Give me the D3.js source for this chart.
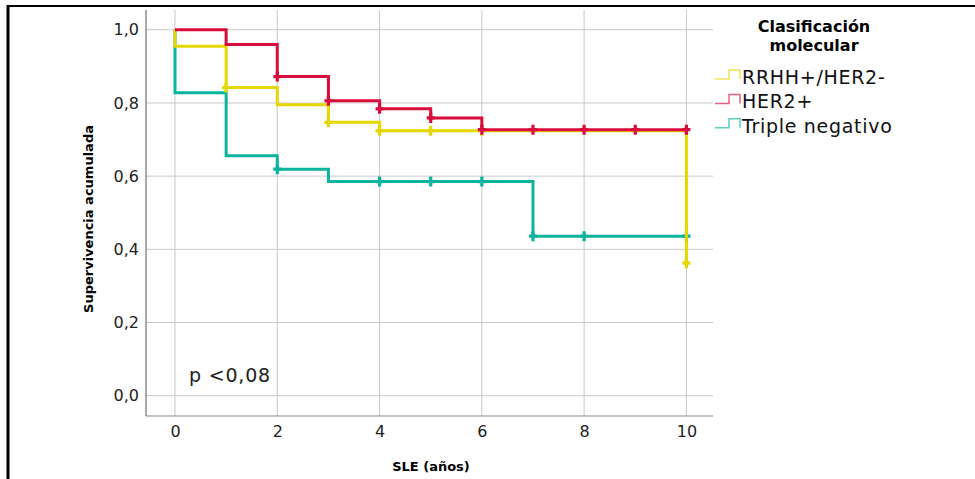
<!DOCTYPE html>
<html>
<head>
<meta charset="utf-8">
<script src="https://cdn.jsdelivr.net/npm/d3@7"></script>
<style>
  body { margin: 0; background: #fff; }
  svg { display: block; }
</style>
</head>
<body>
<div id="chart"></div>
<script>
// Data
const groups = ["RRHH+/HER2-", "HER2+", "Triple negativo"];
const colors = ["#e5d800", "#d80d3c", "#0cb49e"];

// step points: [time, survival]
const rrhhSteps = [[0, 1], [0, 0.955], [1, 0.842], [2, 0.795], [3, 0.747], [4, 0.724], [10, 0.362]];
const her2Steps = [[0, 1], [1, 0.960], [2, 0.872], [3, 0.806], [4, 0.784], [5, 0.759], [6, 0.727]];
const tripleSteps = [[0, 1], [0, 0.828], [1, 0.656], [2, 0.619], [3, 0.585], [7, 0.436]];
const lastTime = 10;

// censored times
const rrhhCensor = [1, 3, 4, 5, 6, 10];
const her2Censor = [2, 3, 4, 5, 6, 7, 8, 9, 10];
const tripleCensor = [2, 4, 5, 6, 7, 8, 10];

const xTicks = [0, 2, 4, 6, 8, 10];
const yTicks = [0, 0.2, 0.4, 0.6, 0.8, 1.0];

const series = [
  { name: groups[0], steps: rrhhSteps, censor: rrhhCensor },
  { name: groups[1], steps: her2Steps, censor: her2Censor },
  { name: groups[2], steps: tripleSteps, censor: tripleCensor }
];

// Setup
const width = 975, height = 479;
const svg = d3.select("#chart").append("svg")
  .attr("width", width)
  .attr("height", height);

// outer frame
svg.append("line").attr("x1", 8).attr("x2", 975).attr("y1", 6).attr("y2", 6)
  .attr("stroke", "#000").attr("stroke-width", 2);
svg.append("line").attr("x1", 8).attr("x2", 8).attr("y1", 5).attr("y2", 479)
  .attr("stroke", "#000").attr("stroke-width", 3);

const plot = { left: 146, right: 713, top: 10, bottom: 416 };

const x = d3.scaleLinear()
  .domain([-0.567, 10.52])
  .range([plot.left, plot.right]);
const y = d3.scaleLinear()
  .domain([-0.0555, 1.054])
  .range([plot.bottom, plot.top]);

const font = "'DejaVu Sans', sans-serif";

// grid
svg.append("g")
  .selectAll("line")
  .data(xTicks)
  .join("line")
  .attr("x1", d => x(d)).attr("x2", d => x(d))
  .attr("y1", plot.top).attr("y2", plot.bottom)
  .attr("stroke", "#c9c9c9").attr("stroke-width", 1);

svg.append("g")
  .selectAll("line")
  .data(yTicks)
  .join("line")
  .attr("x1", plot.left).attr("x2", plot.right)
  .attr("y1", d => y(d)).attr("y2", d => y(d))
  .attr("stroke", "#c9c9c9").attr("stroke-width", 1);

// axes
const fmt = d => d3.format(".1f")(d).replace(".", ",");

const yAxis = svg.append("g")
  .attr("transform", `translate(${plot.left},0)`)
  .call(d3.axisLeft(y).tickValues(yTicks).tickSize(0).tickPadding(7).tickFormat(fmt));
yAxis.select(".domain").attr("stroke", "#555").attr("d", `M0,${plot.top}V${plot.bottom}`);
yAxis.selectAll("text").attr("font-family", font).attr("font-size", 16).attr("fill", "#222");

const xAxis = svg.append("g")
  .attr("transform", `translate(0,${plot.bottom})`)
  .call(d3.axisBottom(x).tickValues(xTicks).tickSize(0).tickPadding(10).tickFormat(d3.format("d")));
xAxis.select(".domain").attr("stroke", "#888").attr("d", `M${plot.left},0H${plot.right}`);
xAxis.selectAll("text").attr("font-family", font).attr("font-size", 16).attr("fill", "#222");

// axis titles
svg.append("text")
  .attr("x", 431).attr("y", 471)
  .attr("text-anchor", "middle")
  .attr("font-family", font).attr("font-size", 13).attr("font-weight", "bold")
  .text("SLE (años)");

svg.append("text")
  .attr("transform", `translate(93,${(plot.top + plot.bottom) / 2 + 6}) rotate(-90)`)
  .attr("text-anchor", "middle")
  .attr("font-family", font).attr("font-size", 13).attr("font-weight", "bold")
  .text("Supervivencia acumulada");

// survival step curves
function stepPath(steps) {
  const pts = [];
  steps.forEach((s, i) => {
    if (i > 0) pts.push([s[0], steps[i - 1][1]]);
    pts.push(s);
  });
  pts.push([lastTime, steps[steps.length - 1][1]]);
  return d3.line().x(d => x(d[0])).y(d => y(d[1]))(pts);
}

function survivalAt(steps, t) {
  let v = steps[0][1];
  steps.forEach(s => { if (s[0] <= t) v = s[1]; });
  return v;
}

// draw order: teal, yellow, red on top
const order = [2, 0, 1];
order.forEach(i => {
  const s = series[i];
  const g = svg.append("g");
  g.append("path")
    .attr("d", stepPath(s.steps))
    .attr("fill", "none")
    .attr("stroke", colors[i])
    .attr("stroke-width", 3);
  // censor "+" marks
  g.selectAll("path.censor")
    .data(s.censor)
    .join("path")
    .attr("class", "censor")
    .attr("d", d => {
      const cx = x(d), cy = y(survivalAt(s.steps, d));
      return `M${cx},${cy - 5}V${cy + 5}M${cx - 4},${cy}H${cx + 4}`;
    })
    .attr("fill", "none")
    .attr("stroke", colors[i])
    .attr("stroke-width", 3.2);
});

// p value
svg.append("text")
  .attr("x", 189).attr("y", 382)
  .attr("font-family", font).attr("font-size", 19).attr("fill", "#222")
  .attr("letter-spacing", 0.8)
  .text("p <0,08");

// legend
const legend = svg.append("g");
legend.append("text")
  .attr("x", 814).attr("y", 32)
  .attr("text-anchor", "middle")
  .attr("font-family", font).attr("font-size", 16).attr("font-weight", "bold")
  .text("Clasificación");
legend.append("text")
  .attr("x", 814).attr("y", 51)
  .attr("text-anchor", "middle")
  .attr("font-family", font).attr("font-size", 16).attr("font-weight", "bold")
  .text("molecular");

const item = legend.selectAll("g.item")
  .data(groups)
  .join("g")
  .attr("class", "item")
  .attr("transform", (d, i) => `translate(0,${79 + i * 24.4})`);

item.append("path")
  .attr("d", "M715,0H729V-9H740V0")
  .attr("fill", "none")
  .attr("stroke", (d, i) => colors[i])
  .attr("stroke-opacity", 0.65)
  .attr("stroke-width", 1.5);

item.append("text")
  .attr("x", 742).attr("y", 5)
  .attr("font-family", font).attr("font-size", 19).attr("fill", "#111")
  .attr("letter-spacing", 0.7)
  .text(d => d);
</script>
</body>
</html>
